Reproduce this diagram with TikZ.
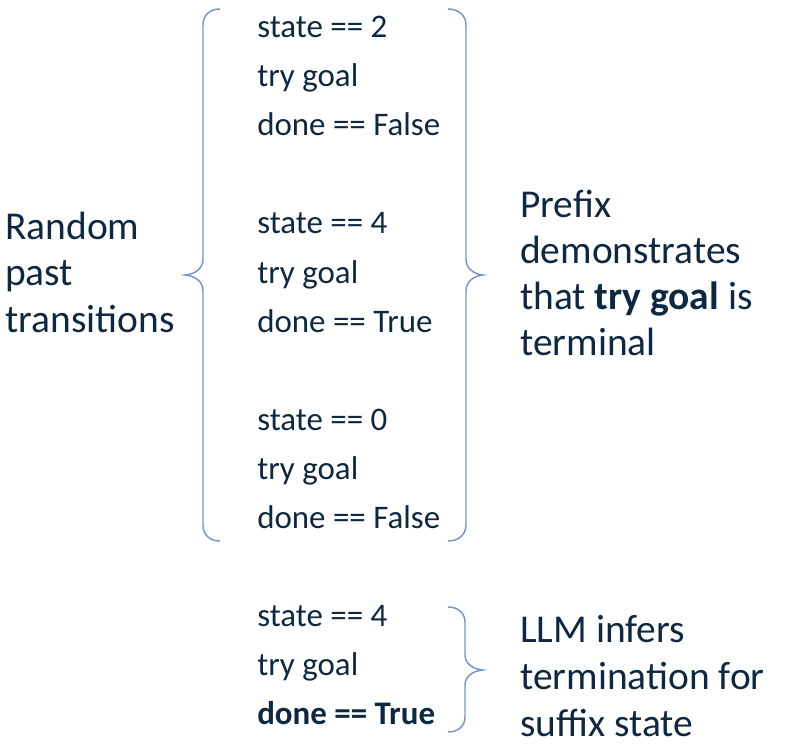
\documentclass[tikz,border=0pt]{standalone}
\usepackage{fontspec}
\setmainfont{Carlito}
\usepackage{xcolor}
\definecolor{navytext}{HTML}{0E2841}
\definecolor{bracecol}{RGB}{118,150,200}
\tikzset{
  linetext/.style={anchor=base west, inner sep=0pt, text=navytext,
                   font=\fontsize{24.7}{30}\selectfont},
  labeltext/.style={anchor=base west, inner sep=0pt, text=navytext,
                    font=\fontsize{29.6}{35}\selectfont},
  bracepath/.style={draw=bracecol, line width=1.1pt}
}

\begin{document}
\begin{tikzpicture}[x=0.75pt,y=-0.75pt]
  \useasboundingbox (0,0) rectangle (798,744);
  %Transition lines
  \foreach \k/\txt in {0/state == 2, 1/try goal, 2/done == False,
                       4/state == 4, 5/try goal, 6/done == True,
                       8/state == 0, 9/try goal, 10/done == False,
                       12/state == 4, 13/try goal, 14/\textbf{done == True}}
    \node[linetext] (line\k) at (257, 37.5+49.1*\k) {\txt};
  %Left label
  \foreach \txt [count=\i] in {Random, past, transitions}
    \node[labeltext] (rnd\i) at (5, 239+46.5*\i-46.5) {\txt};
  %Prefix label
  \foreach \txt [count=\i] in {Prefix, demonstrates, that \textbf{try goal} is, terminal}
    \node[labeltext] (pre\i) at (520, 217+46*\i-46) {\txt};
  %Suffix label
  \foreach \txt [count=\i] in {LLM infers, termination for, suffix state}
    \node[labeltext, text depth=0pt] (suf\i) at (520, 642+47*\i-47) {\txt};
  %Left brace
  \draw[bracepath] (220,9) .. controls (210,9) and (203,15) .. (203,25)
    -- (203,259) .. controls (203,268) and (196,274) .. (185,275)
    .. controls (196,276) and (203,282) .. (203,291)
    -- (203,525) .. controls (203,535) and (210,541) .. (220,541);
  %Right brace
  \draw[bracepath] (448,9) .. controls (458,9) and (466,15) .. (466,25)
    -- (466,259) .. controls (466,268) and (473,274) .. (483,275)
    .. controls (473,276) and (466,282) .. (466,291)
    -- (466,525) .. controls (466,535) and (458,541) .. (448,541);
  %Suffix brace
  \draw[bracepath] (448,607) .. controls (458,607) and (465,613) .. (465,622)
    -- (465,655) .. controls (465,663) and (472,669) .. (483,670)
    .. controls (472,671) and (465,677) .. (465,685)
    -- (465,717) .. controls (465,726) and (458,732) .. (448,732);
\end{tikzpicture}
\end{document}
